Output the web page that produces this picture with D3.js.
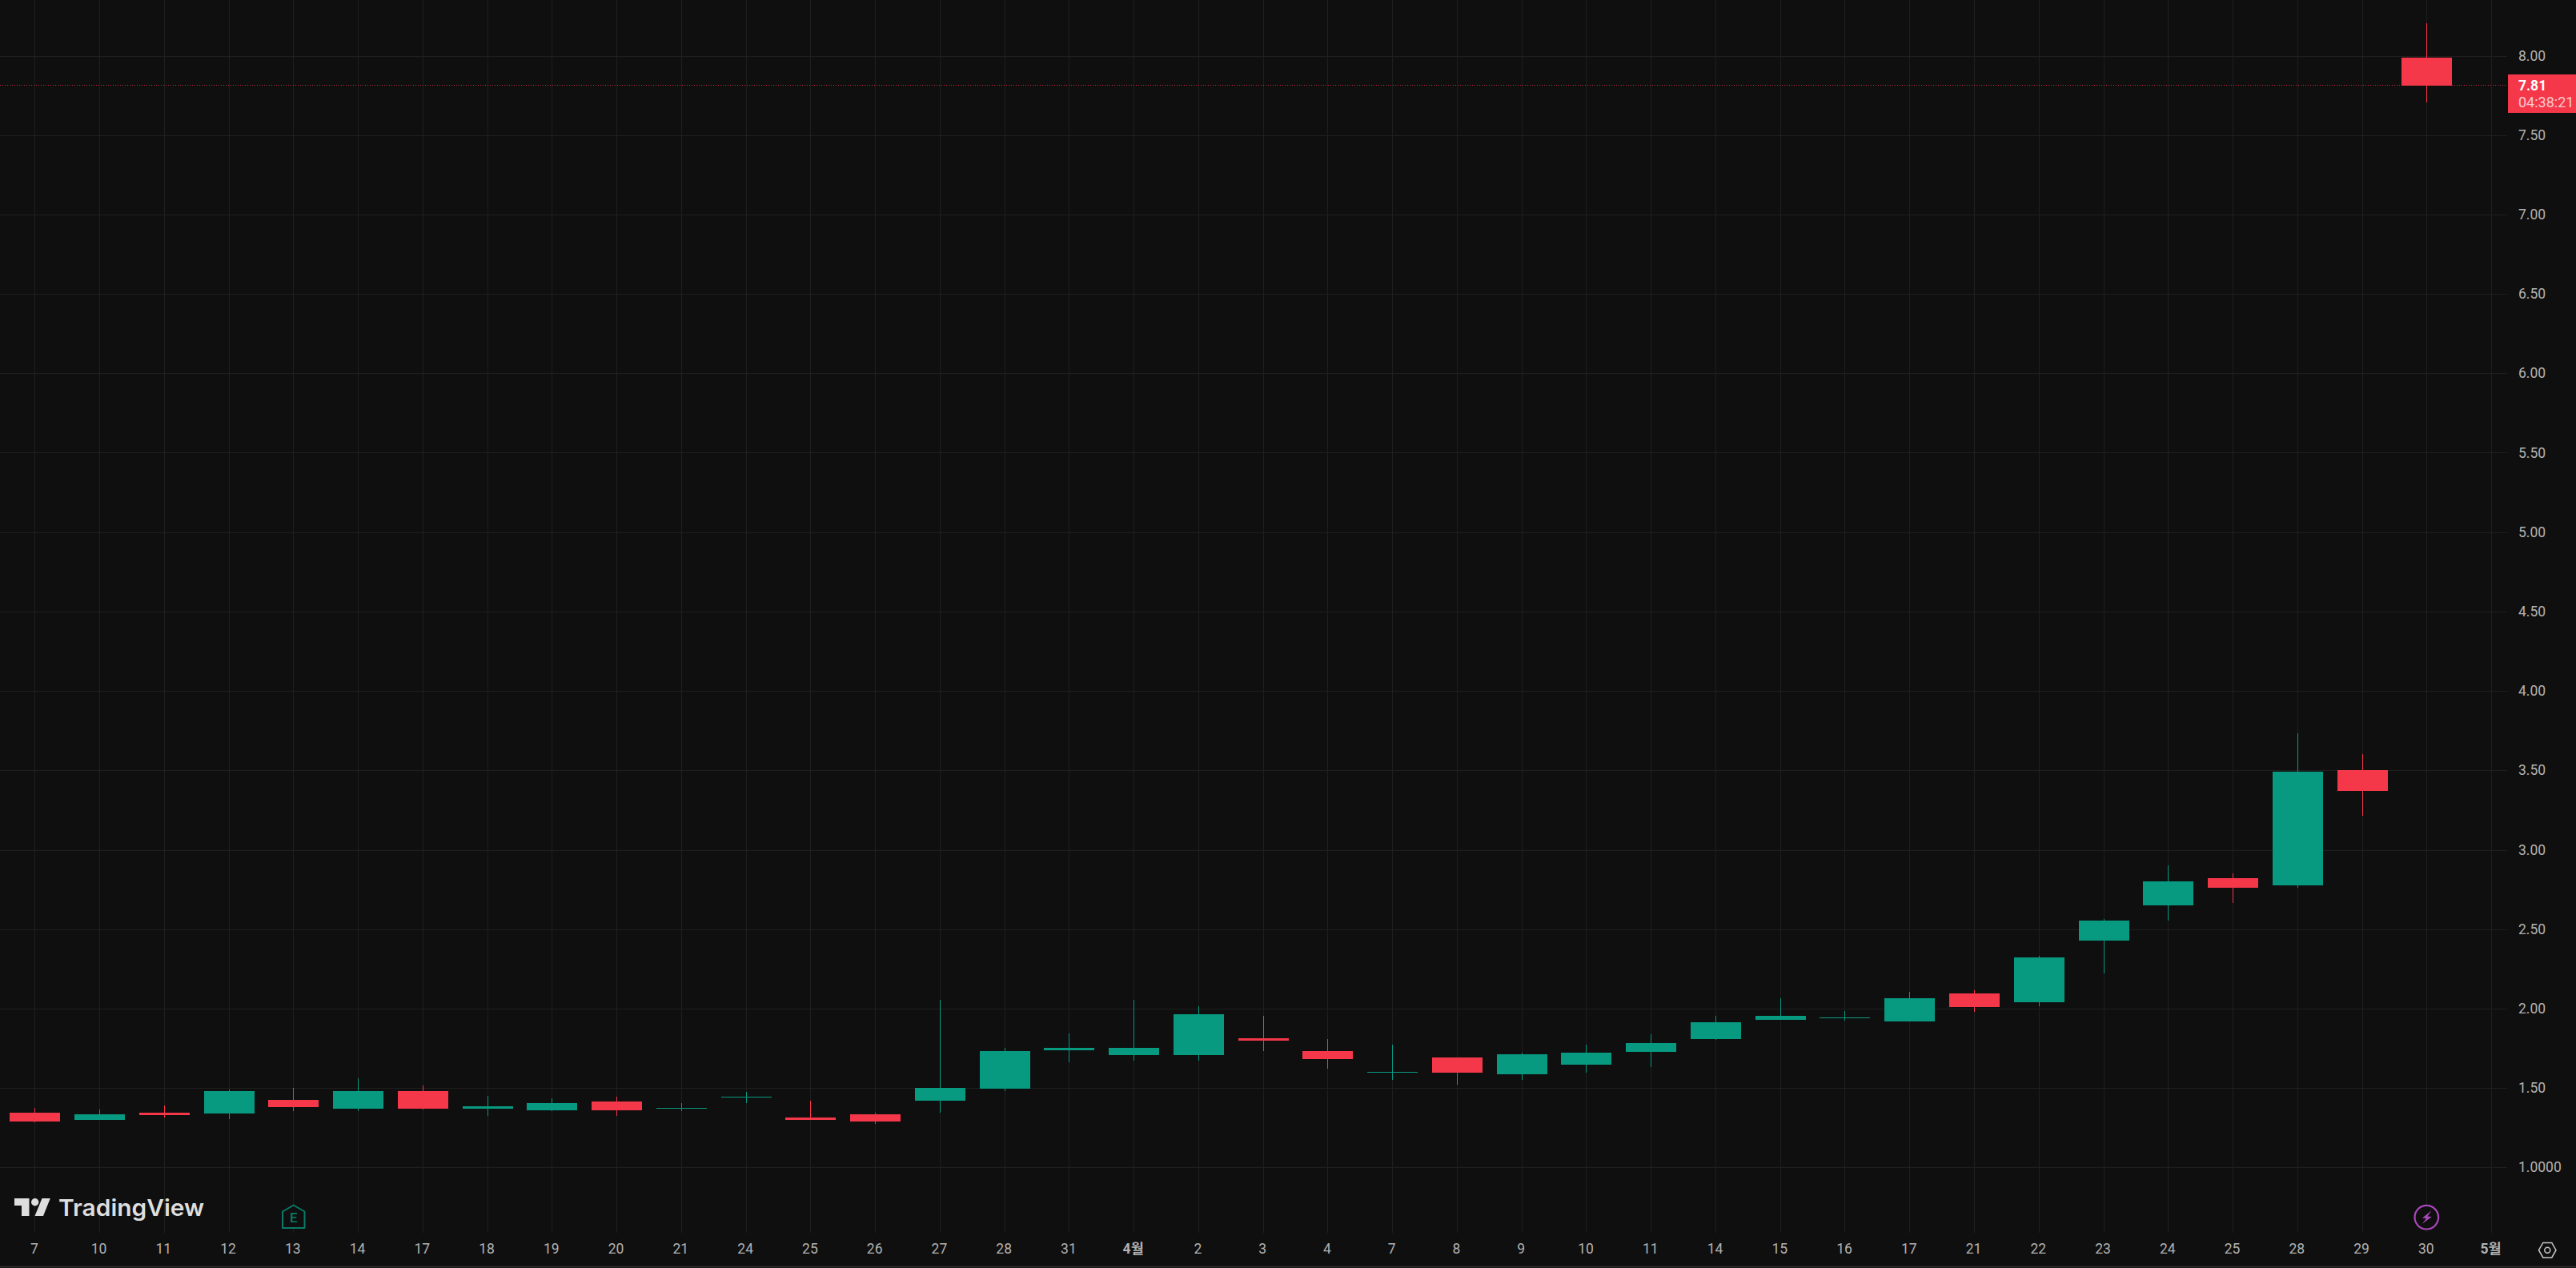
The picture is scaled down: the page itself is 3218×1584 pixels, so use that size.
<!DOCTYPE html>
<html><head><meta charset="utf-8">
<script src="https://cdnjs.cloudflare.com/ajax/libs/d3/7.8.5/d3.min.js"></script>
<style>
html,body{margin:0;padding:0;background:#0f0f0f;overflow:hidden}
svg{display:block}
text{font-family:Roboto,"Noto Sans CJK KR",sans-serif}
</style></head><body>
<svg id="c" width="3218" height="1584"></svg>
<script>
// Time axis labels
const dayLabels=["7","10","11","12","13","14","17","18","19","20","21","24","25","26","27","28","31","4월","2","3","4","7","8","9","10","11","14","15","16","17","21","22","23","24","25","28","29","30","5월"];
// Daily candles
const opens =[1.344,1.299,1.344,1.339,1.425,1.370,1.480,1.370,1.360,1.415,1.370,1.440,1.314,1.334,1.420,1.496,1.738,1.708,1.708,1.814,1.733,1.597,1.693,1.587,1.648,1.728,1.808,1.929,1.940,1.919,2.096,2.039,2.428,2.650,2.819,2.775,3.501,7.987];
const highs =[1.375,1.365,1.390,1.491,1.501,1.561,1.516,1.450,1.435,1.445,1.405,1.475,1.420,1.344,2.055,1.753,1.843,2.056,2.016,1.955,1.809,1.774,1.693,1.723,1.774,1.839,1.955,2.065,1.985,2.105,2.115,2.332,2.563,2.902,2.850,3.732,3.600,8.204];
const lows  =[1.286,1.299,1.316,1.304,1.354,1.354,1.365,1.324,1.354,1.324,1.354,1.405,1.299,1.274,1.344,1.480,1.662,1.673,1.673,1.733,1.622,1.552,1.522,1.552,1.597,1.633,1.801,1.929,1.922,1.919,1.980,2.016,2.221,2.553,2.664,2.761,3.213,7.706];
const closes=[1.289,1.334,1.329,1.480,1.380,1.480,1.370,1.385,1.405,1.360,1.375,1.445,1.299,1.289,1.501,1.733,1.753,1.753,1.965,1.799,1.683,1.602,1.597,1.713,1.723,1.784,1.914,1.955,1.945,2.065,2.009,2.322,2.553,2.801,2.761,3.489,3.369,7.812];
// Price axis
const priceTicks=[1,1.5,2,2.5,3,3.5,4,4.5,5,5.5,6,6.5,7,7.5,8];
const lastPrice=7.81, countdown="04:38:21";

const UP="#089981",DOWN="#f43749",BG="#0f0f0f",GRID="#1f1f1f",TXT="#b2b2b2";
const svg=d3.select("#c");
const x=d3.scaleLinear().domain([0,37]).range([43.3,3031.3]);
const y=d3.scaleLinear().domain([1,8]).range([1458.3,69.5]);
const plotR=3132, plotB=1540, bodyW=63;
const px=v=>Math.round(v)+0.5;

// Grid
const g=svg.append("g").attr("shape-rendering","crispEdges");
g.selectAll(".v").data(dayLabels).join("line")
 .attr("x1",(d,i)=>px(x(i))).attr("x2",(d,i)=>px(x(i))).attr("y1",0).attr("y2",plotB).attr("stroke",GRID);
g.selectAll(".h").data(priceTicks).join("line")
 .attr("x1",0).attr("x2",plotR).attr("y1",d=>px(y(d))).attr("y2",d=>px(y(d))).attr("stroke",GRID).attr("stroke-width",1);
svg.append("line").attr("x1",0).attr("x2",3218).attr("y1",1582.5).attr("y2",1582.5).attr("stroke","#2a2a2a").attr("stroke-width",2);

// Last price line
svg.append("line").attr("x1",0).attr("x2",plotR).attr("y1",Math.floor(y(lastPrice))-0.5).attr("y2",Math.floor(y(lastPrice))-0.5)
 .attr("stroke",DOWN).attr("stroke-dasharray","1 2").attr("opacity",.8).attr("shape-rendering","crispEdges");

// Candles
const idx=d3.range(opens.length);
const col=i=>closes[i]>=opens[i]?UP:DOWN;
const cg=svg.append("g").attr("shape-rendering","crispEdges");
cg.selectAll(".w").data(idx).join("line")
 .attr("x1",i=>px(x(i))).attr("x2",i=>px(x(i))).attr("y1",i=>y(highs[i])).attr("y2",i=>y(lows[i])).attr("stroke",col);
cg.selectAll(".b").data(idx).join("rect")
 .attr("x",i=>Math.round(x(i))-31).attr("width",bodyW)
 .attr("y",i=>Math.round(y(Math.max(opens[i],closes[i]))))
 .attr("height",i=>Math.max(1,Math.round(Math.abs(y(opens[i])-y(closes[i])))))
 .attr("fill",col);

// Price axis
const ya=svg.append("g").attr("transform","translate(3134,0)")
 .call(d3.axisRight(y).tickValues(priceTicks).tickSize(0).tickPadding(12).tickFormat(d=>d===1?"1.0000":d3.format(".2f")(d)));
ya.select(".domain").remove();
ya.selectAll("text").attr("fill",TXT).style("font-size","17.5px").style("font-family","Roboto");

// Time axis
const xa=svg.append("g").attr("transform","translate(-1,1553)")
 .call(d3.axisBottom(x).tickValues(d3.range(dayLabels.length)).tickSize(0).tickPadding(0).tickFormat(i=>dayLabels[i]));
xa.select(".domain").remove();
xa.selectAll("text").attr("fill",TXT).style("font-size","17.5px").attr("dy","0.72em")
 .style("font-family",'Roboto,"Noto Sans CJK KR"').style("font-weight",(i)=>dayLabels[i].includes("월")?700:400);

// Last price label
svg.append("rect").attr("x",3133).attr("y",93).attr("width",85).attr("height",48).attr("fill",DOWN);
svg.append("text").attr("x",3146).attr("y",113).text(lastPrice.toFixed(2)).attr("fill","#fff").style("font-size","17.5px").style("font-weight",700);
svg.append("text").attr("x",3146).attr("y",134).text(countdown).attr("fill","#ffffff").attr("opacity",.72).style("font-size","18px");

// Logo
const lg=svg.append("g").attr("fill","#dedede");
lg.append("path").attr("d","M18 1497H36.500V1519H27V1506H18Z");
lg.append("circle").attr("cx",43.700).attr("cy",1501.700).attr("r",4.700);
lg.append("path").attr("d","M52.500 1497H62.800L54 1519H43.500Z");
lg.append("text").attr("x",73).attr("y",1518.500).text("TradingView").style("font-family","Inter").style("font-weight",600).style("font-size","29px").attr("textLength",182).attr("lengthAdjust","spacingAndGlyphs");

// Earnings marker
svg.append("path").attr("d","M353 1513.500L366.700 1505.500L380.500 1513.500V1534H353Z").attr("fill",BG).attr("stroke","#097a67").attr("stroke-width",2).attr("stroke-linejoin","round");
svg.append("text").attr("x",366.700).attr("y",1527).attr("text-anchor","middle").text("E").attr("fill","#097a67").style("font-size","17px").style("font-weight",500);

// Flash marker
svg.append("circle").attr("cx",3031.300).attr("cy",1520.700).attr("r",14.800).attr("fill",BG).attr("stroke","#ab47bc").attr("stroke-width",2.200);
svg.append("path").attr("d","M3037.500 1512.300L3026 1521.500L3031 1522L3026 1528.700L3037.800 1520L3032.500 1519.500Z").attr("fill","#ab47bc");

// Settings icon
svg.append("path").attr("d","M3171.500 1561.700L3176.800 1552.500H3187.800L3193 1561.700L3187.800 1570.900H3176.800Z").attr("fill","none").attr("stroke","#c8c8c8").attr("stroke-width",1.500);
svg.append("circle").attr("cx",3182.300).attr("cy",1561.700).attr("r",3.500).attr("fill","none").attr("stroke","#c8c8c8").attr("stroke-width",1.500);
</script></body></html>
